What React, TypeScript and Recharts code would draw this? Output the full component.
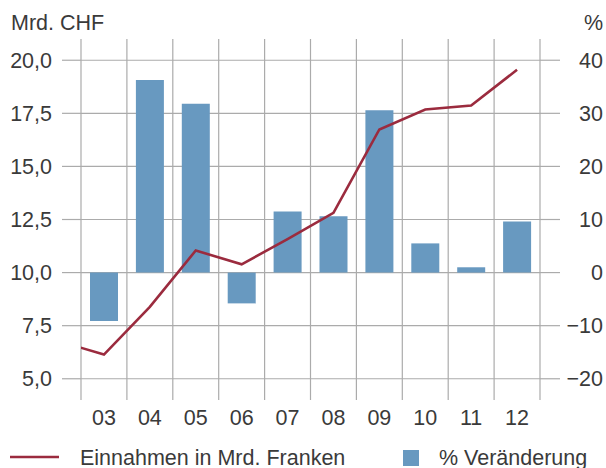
import React from 'react';
import { Bar, CartesianGrid, ComposedChart, Line, XAxis, YAxis } from 'recharts';

// years 2002..2012, the 02 point only feeds the clipped start of the line
const years = [2, 3, 4, 5, 6, 7, 8, 9, 10, 11, 12];
const revenue = [6.78, 6.14, 8.39, 11.04, 10.39, 11.58, 12.81, 16.74, 17.68, 17.87, 19.55];
const changePct = [null, -9.1, 36.3, 31.8, -5.8, 11.5, 10.6, 30.6, 5.5, 1.0, 9.6];

const yearTicks = [3, 4, 5, 6, 7, 8, 9, 10, 11, 12];
const bandEdges = [2.5, 3.5, 4.5, 5.5, 6.5, 7.5, 8.5, 9.5, 10.5, 11.5, 12.5];
const leftTicks = [5, 7.5, 10, 12.5, 15, 17.5, 20];
const rightTicks = [-20, -10, 0, 10, 20, 30, 40];

const lineName = 'Einnahmen in Mrd. Franken';
const barName = '% Veränderung';

const RED = '#9b2b3e';
const BLUE = '#6899c0';
const GRID = '#ababab';
const TEXT = '#3a3a3a';
const FONT = '"Liberation Sans", Arial, sans-serif';
const FS = 21.5;

const data = years.map((year, i) => ({
  year,
  revenue: revenue[i],
  change: changePct[i],
}));

const fmtLeft = (v: number) => v.toFixed(1).replace('.', ',');
const fmtRight = (v: number) => (v < 0 ? `\u2212${Math.abs(v)}` : `${v}`);
const fmtYear = (v: number) => String(v).padStart(2, '0');

const RightTick = ({ x, y, payload }: any) => (
  <text x={x + 34} y={y} dy="0.355em" textAnchor="end" fill={TEXT} fontSize={FS} fontFamily={FONT}>
    {fmtRight(payload.value)}
  </text>
);

export default function App() {
  return (
    <div style={{ position: 'absolute', left: 0, top: 0, width: 606, height: 468, background: '#fff' }}>
      <ComposedChart
        width={606}
        height={468}
        data={data}
        margin={{ top: 39, right: 0, bottom: 38, left: 0 }}
      >
        <CartesianGrid xAxisId="edges" yAxisId="left" stroke={GRID} strokeWidth={1.2} syncWithTicks />
        <XAxis
          dataKey="year"
          type="number"
          domain={[2.5, 12.5]}
          allowDataOverflow
          ticks={yearTicks}
          tickFormatter={fmtYear}
          axisLine={false}
          tickLine={false}
          tickSize={0}
          tickMargin={10}
          height={30}
          tick={{ fill: TEXT, fontSize: FS, fontFamily: FONT }}
          interval={0}
        />
        <XAxis
          xAxisId="edges"
          dataKey="year"
          type="number"
          domain={[2.5, 12.5]}
          allowDataOverflow
          ticks={bandEdges}
          tickFormatter={() => ''}
          axisLine={false}
          tickLine={false}
          tickSize={0}
          height={0}
          interval={0}
        />
        <YAxis
          yAxisId="left"
          domain={[4, 21]}
          ticks={leftTicks}
          tickFormatter={fmtLeft}
          width={81}
          axisLine={false}
          tickLine={{ stroke: GRID, strokeWidth: 1.2 }}
          tickSize={19}
          tickMargin={10}
          tick={{ fill: TEXT, fontSize: FS, fontFamily: FONT }}
          interval={0}
        />
        <YAxis
          yAxisId="right"
          orientation="right"
          domain={[-24, 44]}
          ticks={rightTicks}
          width={66}
          axisLine={false}
          tickLine={{ stroke: GRID, strokeWidth: 1.2 }}
          tickSize={20}
          tickMargin={9}
          tick={<RightTick />}
          interval={0}
        />
        <Bar
          yAxisId="right"
          dataKey="change"
          name={barName}
          fill={BLUE}
          barSize={28}
          isAnimationActive={false}
        />
        <Line
          yAxisId="left"
          dataKey="revenue"
          name={lineName}
          stroke={RED}
          strokeWidth={2.6}
          dot={false}
          activeDot={false}
          type="linear"
          isAnimationActive={false}
        />
      </ComposedChart>
      <svg
        width={606}
        height={468}
        style={{ position: 'absolute', left: 0, top: 0, pointerEvents: 'none' }}
        fontFamily={FONT}
        fontSize={FS}
        fill={TEXT}
      >
        <text x={11} y={30}>Mrd. CHF</text>
        <text x={603} y={30} textAnchor="end">%</text>
        <line x1={10} x2={59} y1={457} y2={457} stroke={RED} strokeWidth={2.6} />
        <text x={80} y={464.5}>{lineName}</text>
        <rect x={403} y={450} width={16} height={16} fill={BLUE} />
        <text x={439} y={464.5}>{barName}</text>
      </svg>
    </div>
  );
}
